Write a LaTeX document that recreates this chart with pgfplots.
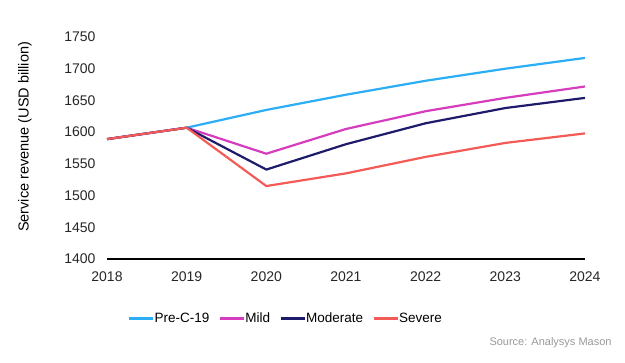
\documentclass[border=0pt]{standalone}
\usepackage{pgfplots}
\pgfplotsset{compat=1.18}
\usepackage{fontspec}
\setmainfont{Liberation Sans}
\definecolor{cpre}{HTML}{2BAEF5}
\definecolor{cmild}{HTML}{D63CBE}
\definecolor{cmod}{HTML}{1E1B6A}
\definecolor{csev}{HTML}{F45B57}
\begin{document}
\begin{tikzpicture}[x=1pt,y=1pt]
\useasboundingbox (-107,-104) rectangle (518,259);
\begin{axis}[
  at={(0,0)}, anchor=south west,
  scale only axis, width=478pt, height=222pt,
  xmin=2018, xmax=2024, ymin=1400, ymax=1750,
  xtick={2018,...,2024}, ytick={1400,1450,...,1750},
  /pgf/number format/1000 sep={},
  /pgf/number format/assume math mode=true,
  tick label style={font=\fontsize{14}{16}\selectfont, text=black!85},
  major tick length=0pt,
  axis line style={draw=none},
  axis x line*=bottom, axis y line*=left,
  xticklabel style={yshift=-9pt},
  yticklabel style={xshift=-8pt},
  ylabel={Service revenue (USD billion)},
  ylabel style={at={(axis description cs:-0.172,0.55)}, anchor=center, font=\fontsize{14.5}{16}\selectfont},
  legend columns=4,
  legend style={at={(axis description cs:0.374,-0.266)}, anchor=center, draw=none, font=\fontsize{13.5}{15}\selectfont, /tikz/every even column/.append style={column sep=7pt}, /tikz/every odd column/.append style={column sep=-2pt}},
  legend image code/.code={\draw[#1, line width=3pt] (0pt,0pt) -- (24pt,0pt);},
  every axis plot/.append style={line width=2.2pt, line join=round},
  clip=false,
]
\draw[black, line width=1.2pt] (axis cs:2018,1400) -- (axis cs:2024,1400);
\addplot[cpre] coordinates {(2018,1589) (2019,1607) (2020,1635) (2021,1659) (2022,1681) (2023,1700) (2024,1717)};
\addplot[cmild] coordinates {(2018,1589) (2019,1607) (2020,1566) (2021,1605) (2022,1633) (2023,1654) (2024,1672)};
\addplot[cmod] coordinates {(2018,1589) (2019,1607) (2020,1541) (2021,1581) (2022,1614) (2023,1638) (2024,1654)};
\addplot[csev] coordinates {(2018,1589) (2019,1607) (2020,1515) (2021,1535) (2022,1561) (2023,1583) (2024,1598)};
\legend{Pre-C-19, Mild, Moderate, Severe}
\node[anchor=east, text=black!40, font=\fontsize{11}{13}\selectfont] at (axis description cs:1.063,-0.378) {Source: Analysys Mason};
\end{axis}
\end{tikzpicture}
\end{document}
